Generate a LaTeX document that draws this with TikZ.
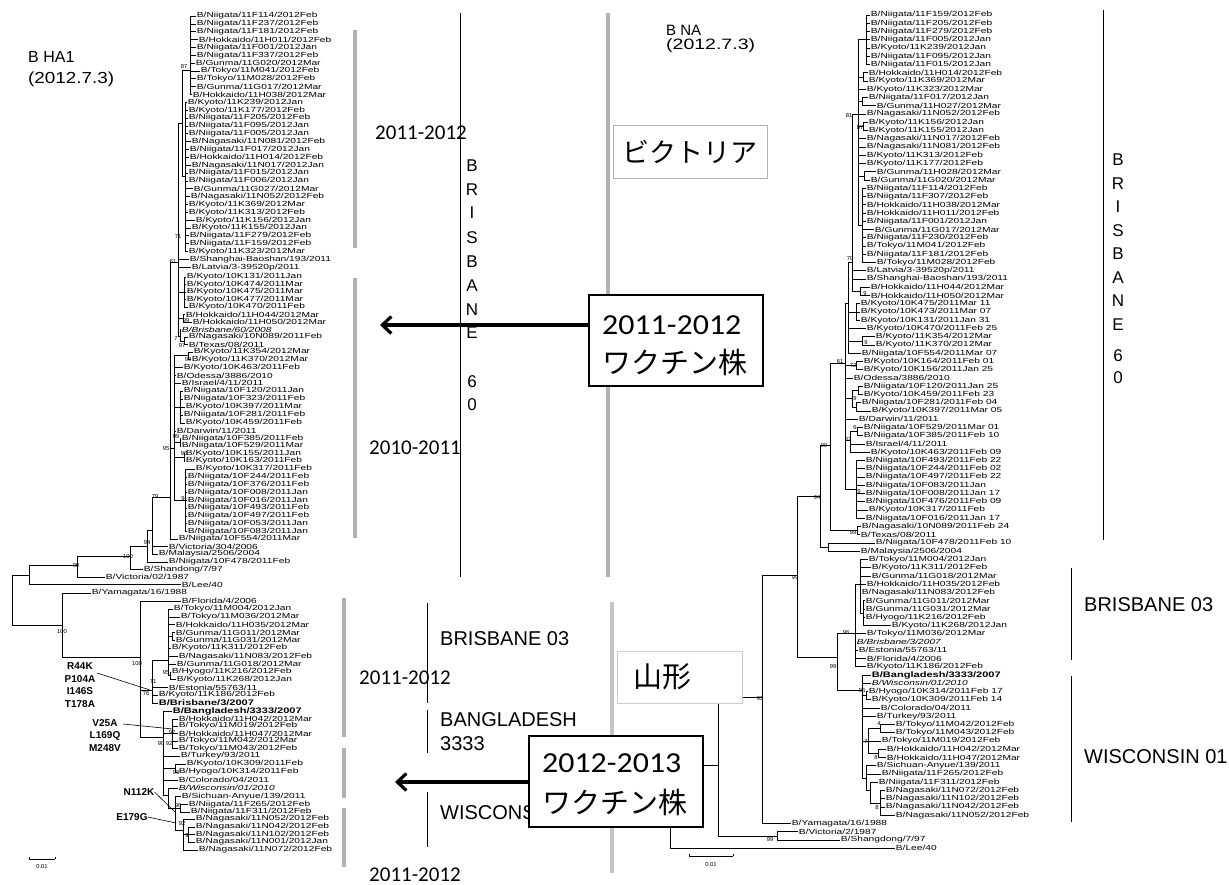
\documentclass[tikz,border=0pt]{standalone}
\usepackage{graphicx}
\usepackage{fontspec}
\setmainfont{Liberation Sans}
\newfontfamily\leaffont{Liberation Sans}
\newfontfamily\calfont{Carlito}
\newfontfamily\jpfont{Noto Sans CJK JP}
\usetikzlibrary{arrows.meta}
\newcounter{lfc}
\newcommand\ry[1]{(15+8.25*(#1-1))}
\newcommand\leafL[4]{\stepcounter{lfc}\draw[br] (#1,#3) -- (#2,#3) node[lf] (L\arabic{lfc}) {\scalebox{1.38}[1]{#4}};}
\newcommand\leafR[4]{\stepcounter{lfc}\draw[br] (#1,{\ry{#3}}) -- (#2,{\ry{#3}}) node[lf] (L\arabic{lfc}) {\scalebox{1.38}[1]{#4}};}
\newcommand\vl[3]{\draw[br] (#1,#2) -- (#1,#3);}
\newcommand\hl[3]{\draw[br] (#1,#3) -- (#2,#3);}
\newcommand\rvl[3]{\draw[br] (#1,{\ry{#2}}) -- (#1,{\ry{#3}});}
\newcommand\rhl[3]{\draw[br] (#1,{\ry{#3}}) -- (#2,{\ry{#3}});}
\newcommand\boot[3]{\node[bsl] at (#1,#2) {#3};}
\tikzset{
  br/.style={line width=0.6pt, black},
  lf/.style={anchor=west, inner sep=0.6pt, font=\leaffont\fontsize{7.4}{8}\selectfont},
  bsl/.style={inner sep=0pt, font=\leaffont\fontsize{5.8}{6}\selectfont},
  gbar/.style={line width=3.5pt, color=gray!60},
  thinbar/.style={line width=0.8pt, black},
  yr/.style={font=\calfont\fontsize{21}{23}\selectfont, inner sep=0pt},
  lab/.style={anchor=west, inner sep=0pt, font=\fontsize{20}{22}\selectfont},
  vlet/.style={inner sep=0pt, font=\fontsize{17}{18}\selectfont},
  mut/.style={align=center, inner sep=0pt, font=\bfseries\fontsize{10}{12.6}\selectfont},
  mline/.style={line width=0.6pt, black},
  vbox/.style={draw=black, line width=2.5pt, fill=white, minimum width=174pt, minimum height=91pt, inner sep=0pt},
  boxnum/.style={anchor=west, inner sep=0pt, font=\calfont\fontsize{29}{30}\selectfont},
  boxjp/.style={anchor=west, inner sep=0pt, font=\jpfont\fontsize{29}{30}\selectfont},
  arr/.style={line width=3.2pt, -{Straight Barb[length=9pt,width=17pt]}}
}
\begin{document}
\begin{tikzpicture}[x=1pt,y=-1pt]
\useasboundingbox (0,0) rectangle (1229,885);
\fill[white] (0,0) rectangle (1229,885);

% ---------------- titles
\node[anchor=west, inner sep=0pt, font=\fontsize{16}{18}\selectfont] (tl1) at (28,57) {B HA1};
\node[anchor=west, inner sep=0pt, font=\fontsize{16}{18}\selectfont] (tl2) at (28,79) {\scalebox{1.18}[1]{(2012.7.3)}};
\node[anchor=west, inner sep=0pt, font=\fontsize{15}{17}\selectfont] (tr1) at (666,30) {B NA};
\node[anchor=west, inner sep=0pt, font=\fontsize{15}{17}\selectfont] (tr2) at (666,46) {\scalebox{1.3}[1]{(2012.7.3)}};

% ================= LEFT TREE (HA1)
\leafL{190}{196}{16}{B/Niigata/11F114/2012Feb}
\leafL{190}{196}{23.85}{B/Niigata/11F237/2012Feb}
\leafL{190}{196}{31.7}{B/Niigata/11F181/2012Feb}
\leafL{190}{198}{39.55}{B/Hokkaido/11H011/2012Feb}
\leafL{190}{196}{47.4}{B/Niigata/11F001/2012Jan}
\leafL{190}{196}{55.25}{B/Niigata/11F337/2012Feb}
\leafL{190}{195}{63.1}{B/Gunma/11G020/2012Mar}
\leafL{190}{200}{70.95}{B/Tokyo/11M041/2012Feb}
\leafL{190}{196}{78.8}{B/Tokyo/11M028/2012Feb}
\leafL{190}{196}{86.65}{B/Gunma/11G017/2012Mar}
\leafL{190}{192}{94.5}{B/Hokkaido/11H038/2012Mar}
\vl{190}{16}{94.5}
\hl{182}{190}{70}
\leafL{185}{187}{102.35}{B/Kyoto/11K239/2012Jan}
\leafL{185}{188}{110.2}{B/Kyoto/11K177/2012Feb}
\leafL{185}{188}{118.05}{B/Niigata/11F205/2012Feb}
\leafL{185}{188}{125.9}{B/Niigata/11F095/2012Jan}
\leafL{185}{188}{133.75}{B/Niigata/11F005/2012Jan}
\leafL{185}{191}{141.6}{B/Nagasaki/11N081/2012Feb}
\leafL{185}{189}{149.45}{B/Niigata/11F017/2012Jan}
\leafL{185}{189}{157.3}{B/Hokkaido/11H014/2012Feb}
\leafL{185}{191}{165.15}{B/Nagasaki/11N017/2012Jan}
\leafL{185}{188}{173}{B/Niigata/11F015/2012Jan}
\leafL{185}{188}{180.85}{B/Niigata/11F006/2012Jan}
\leafL{185}{193}{188.7}{B/Gunma/11G027/2012Mar}
\leafL{185}{190}{196.55}{B/Nagasaki/11N052/2012Feb}
\leafL{185}{188}{204.4}{B/Kyoto/11K369/2012Mar}
\leafL{185}{188}{212.25}{B/Kyoto/11K313/2012Feb}
\leafL{185}{195}{220.1}{B/Kyoto/11K156/2012Jan}
\leafL{185}{191}{227.95}{B/Kyoto/11K155/2012Jan}
\leafL{185}{189}{235.8}{B/Niigata/11F279/2012Feb}
\leafL{185}{189}{243.65}{B/Niigata/11F159/2012Feb}
\leafL{185}{188}{251.5}{B/Kyoto/11K323/2012Mar}
\vl{185}{102.35}{251.5}
\hl{182}{185}{176}
\vl{182}{70}{176}
\hl{178}{182}{123}
\leafL{178}{189}{259.35}{B/Shanghai-Baoshan/193/2011}
\leafL{178}{191}{267.2}{B/Latvia/3-39520p/2011}
\leafL{184}{186}{277}{B/Kyoto/10K131/2011Jan}
\leafL{184}{186}{284.5}{B/Kyoto/10K474/2011Mar}
\leafL{184}{186}{292}{B/Kyoto/10K475/2011Mar}
\leafL{184}{186}{299.5}{B/Kyoto/10K477/2011Mar}
\leafL{184}{188}{307}{B/Kyoto/10K470/2011Feb}
\vl{184}{277}{307} \hl{178}{184}{292}
\leafL{183}{185}{314.5}{B/Hokkaido/11H044/2012Mar}
\leafL{183}{192}{322}{B/Hokkaido/11H050/2012Mar}
\vl{183}{314.5}{322} \hl{178}{183}{318}
\leafL{180}{181}{329.5}{\itshape B/Brisbane/60/2008}
\leafL{184}{188}{337}{B/Nagasaki/10N089/2011Feb}
\leafL{184}{188}{344.5}{B/Texas/08/2011}
\vl{184}{337}{344.5} \hl{180}{184}{341}
\vl{180}{329.5}{341} \hl{178}{180}{336}
\vl{178}{123}{336}
\hl{170}{178}{262}
\leafL{188}{193}{352}{B/Kyoto/11K354/2012Mar}
\leafL{188}{191}{359.5}{B/Kyoto/11K370/2012Mar}
\vl{188}{352}{359.5} \hl{174}{188}{355.5}
\leafL{174}{183}{367.5}{B/Kyoto/10K463/2011Feb}
\leafL{174}{176}{375.5}{B/Odessa/3886/2010}
\leafL{174}{181}{383}{B/Israel/4/11/2011}
\leafL{180}{183}{391}{B/Niigata/10F120/2011Jan}
\leafL{180}{183}{399}{B/Niigata/10F323/2011Feb}
\leafL{180}{185}{407}{B/Kyoto/10K397/2011Mar}
\leafL{180}{183}{415}{B/Niigata/10F281/2011Feb}
\leafL{180}{185}{423}{B/Kyoto/10K459/2011Feb}
\vl{180}{391}{423} \hl{174}{180}{407}
\leafL{174}{176}{431}{B/Darwin/11/2011}
\leafL{180}{181}{438.5}{B/Niigata/10F385/2011Feb}
\leafL{180}{181}{446}{B/Niigata/10F529/2011Mar}
\vl{180}{438.5}{446} \hl{174}{180}{442}
\leafL{184}{185}{453.5}{B/Kyoto/10K155/2011Jan}
\leafL{184}{185}{461}{B/Kyoto/10K163/2011Feb}
\vl{184}{453.5}{461} \hl{174}{184}{457}
\leafL{185}{195}{469}{B/Kyoto/10K317/2011Feb}
\leafL{185}{187}{476.8}{B/Niigata/10F244/2011Feb}
\leafL{185}{187}{484.6}{B/Niigata/10F376/2011Feb}
\leafL{185}{187}{492.4}{B/Niigata/10F008/2011Jan}
\leafL{185}{187}{500.2}{B/Niigata/10F016/2011Jan}
\leafL{185}{187}{508}{B/Niigata/10F493/2011Feb}
\leafL{185}{187}{515.8}{B/Niigata/10F497/2011Feb}
\leafL{185}{187}{523.6}{B/Niigata/10F053/2011Jan}
\leafL{185}{187}{531.4}{B/Niigata/10F083/2011Jan}
\vl{185}{469}{531.4} \hl{174}{185}{500}
\vl{174}{355.5}{500} \hl{170}{174}{448}
\leafL{170}{178}{539}{B/Niigata/10F554/2011Mar}
\vl{170}{262}{539} \hl{152}{170}{497}
\leafL{152}{168}{546.5}{B/Victoria/304/2006}
\leafL{152}{158}{554}{B/Malaysia/2506/2004}
\vl{152}{497}{554} \hl{147}{152}{530}
\leafL{147}{168}{562}{B/Niigata/10F478/2011Feb}
\vl{147}{530}{562} \hl{130}{147}{546}
\leafL{130}{143}{569.5}{B/Shandong/7/97}
\vl{130}{546}{569.5} \hl{77}{130}{556}
\leafL{77}{105}{577}{B/Victoria/02/1987}
\vl{77}{556}{577} \hl{29}{77}{565}
\leafL{29}{181}{584.5}{B/Lee/40}
\vl{29}{565}{584.5} \hl{12}{29}{575}
\vl{12}{575}{625} \hl{12}{62}{625}
\leafL{62}{91}{593}{B/Yamagata/16/1988}
\vl{62}{593}{657} \hl{62}{140}{657}
\leafL{140}{181}{601}{B/Florida/4/2006}
\leafL{168}{173}{609}{B/Tokyo/11M004/2012Jan}
\leafL{168}{180}{617}{B/Tokyo/11M036/2012Mar}
\leafL{168}{175}{624.5}{B/Hokkaido/11H035/2012Mar}
\leafL{172}{175}{632.5}{B/Gunma/11G011/2012Mar}
\leafL{172}{175}{640}{B/Gunma/11G031/2012Mar}
\vl{172}{632.5}{640} \hl{168}{172}{636}
\leafL{168}{171}{648}{B/Kyoto/11K311/2012Feb}
\leafL{168}{178}{656.5}{B/Nagasaki/11N083/2012Feb}
\leafL{168}{176}{664}{B/Gunma/11G018/2012Mar}
\leafL{170}{171}{672}{B/Hyogo/11K216/2012Feb}
\leafL{170}{176}{679.5}{B/Kyoto/11K268/2012Jan}
\vl{170}{672}{679.5} \hl{168}{170}{675}
\vl{168}{609}{675} \hl{152}{168}{660}
\leafL{152}{168}{687.5}{B/Estonia/55763/11}
\leafL{152}{158}{695}{B/Kyoto/11K186/2012Feb}
\leafL{152}{158}{703}{\bfseries\fontsize{8}{9}\selectfont B/Brisbane/3/2007}
\vl{152}{660}{703} \hl{140}{152}{690}
\vl{140}{601}{737} \hl{140}{163}{737}
\leafL{163}{172}{711.5}{\bfseries\fontsize{8}{9}\selectfont B/Bangladesh/3333/2007}
\leafL{172}{178}{719}{B/Hokkaido/11H042/2012Mar}
\leafL{172}{178}{726}{B/Tokyo/11M019/2012Feb}
\leafL{172}{178}{733.5}{B/Hokkaido/11H047/2012Mar}
\leafL{172}{178}{741}{B/Tokyo/11M042/2012Mar}
\leafL{172}{178}{748.5}{B/Tokyo/11M043/2012Feb}
\vl{172}{719}{748.5} \hl{163}{172}{733}
\leafL{163}{180}{756}{B/Turkey/93/2011}
\leafL{175}{186}{764}{B/Kyoto/10K309/2011Feb}
\leafL{175}{178}{772}{B/Hyogo/10K314/2011Feb}
\vl{175}{764}{772} \hl{163}{175}{768}
\leafL{163}{178}{780}{B/Colorado/04/2011}
\leafL{168}{178}{788}{\itshape B/Wisconsin/01/2010}
\leafL{175}{181}{796.5}{B/Sichuan-Anyue/139/2011}
\leafL{180}{188}{804.5}{B/Niigata/11F265/2012Feb}
\leafL{180}{190}{812}{B/Niigata/11F311/2012Feb}
\vl{180}{804.5}{812} \hl{175}{180}{808.5}
\leafL{183}{195}{819}{B/Nagasaki/11N052/2012Feb}
\leafL{188}{195}{827}{B/Nagasaki/11N042/2012Feb}
\leafL{188}{195}{834.5}{B/Nagasaki/11N102/2012Feb}
\leafL{188}{195}{842}{B/Nagasaki/11N001/2012Jan}
\vl{188}{827}{842} \hl{183}{188}{834.5}
\leafL{183}{198}{850}{B/Nagasaki/11N072/2012Feb}
\vl{183}{819}{850} \hl{175}{183}{830}
\vl{175}{796.5}{830} \hl{168}{175}{808}
\vl{168}{788}{808} \hl{163}{168}{795}
\vl{163}{711.5}{795}

% left bootstrap values
\boot{184}{67}{87}
\boot{178}{237}{71}
\boot{173}{262}{61}
\boot{186}{321}{99}
\boot{176}{339}{7}
\boot{182}{346}{97}
\boot{188}{360}{99}
\boot{176}{437}{99}
\boot{184}{454}{96}
\boot{166}{449}{95}
\boot{183}{499}{9}
\boot{155}{497}{79}
\boot{147}{543}{94}
\boot{128}{557}{100}
\boot{76}{566}{99}
\boot{62}{631}{100}
\boot{137}{663}{100}
\boot{166}{672}{95}
\boot{153}{682}{71}
\boot{146}{693}{76}
\boot{172}{732}{97}
\boot{161}{743}{90}
\boot{169}{743}{92}
\boot{176}{772}{99}
\boot{178}{805}{96}
\boot{182}{823}{92}
\boot{187}{835}{9}

% mutations
\node[mut] (mA) at (80,685) {R44K\\P104A\\I146S\\T178A};
\coordinate (mAs) at (97,673); \coordinate (mAe) at (150,690);
\draw[mline] (mAs) -- (mAe);
\node[mut] (mB) at (105,735.5) {V25A\\L169Q\\M248V};
\coordinate (mBs) at (123,724); \coordinate (mBe) at (173,729);
\draw[mline] (mBs) -- (mBe);
\node[mut] (mC) at (139,792) {N112K};
\coordinate (mCe) at (176,813);
\draw[mline] (mC.east) -- (mCe);
\node[mut] (mD) at (132,817) {E179G};
\coordinate (mDe) at (176,823);
\draw[mline] (mD.east) -- (mDe);

% left scale bar
\coordinate (sl1) at (29,859); \coordinate (sl2) at (55,859);
\draw[br] (sl1) -- (sl2);
\draw[br] (29,857) -- (sl1); \draw[br] (55,857) -- (sl2);
\node[bsl] (sl) at (42,866) {0.01};

% ================= RIGHT TREE (NA)
\leafR{866}{870}{1}{B/Niigata/11F159/2012Feb}
\leafR{866}{870}{2}{B/Niigata/11F205/2012Feb}
\leafR{866}{870}{3}{B/Niigata/11F279/2012Feb}
\leafR{866}{870}{4}{B/Niigata/11F005/2012Jan}
\leafR{866}{870}{5}{B/Kyoto/11K239/2012Jan}
\leafR{866}{870}{6}{B/Niigata/11F095/2012Jan}
\leafR{866}{870}{7}{B/Niigata/11F015/2012Jan}
\leafR{863}{868}{8}{B/Hokkaido/11H014/2012Feb}
\leafR{863}{868}{9}{B/Kyoto/11K369/2012Mar}
\leafR{858}{866}{10}{B/Kyoto/11K323/2012Mar}
\leafR{862}{868}{11}{B/Niigata/11F017/2012Jan}
\leafR{862}{876}{12}{B/Gunma/11H027/2012Mar}
\leafR{858}{866}{13}{B/Nagasaki/11N052/2012Feb}
\leafR{863}{868}{14}{B/Kyoto/11K156/2012Jan}
\leafR{863}{868}{15}{B/Kyoto/11K155/2012Jan}
\leafR{858}{866}{16}{B/Nagasaki/11N017/2012Feb}
\leafR{858}{866}{17}{B/Nagasaki/11N081/2012Feb}
\leafR{858}{866}{18}{B/Kyoto/11K313/2012Feb}
\leafR{858}{866}{19}{B/Kyoto/11K177/2012Feb}
\leafR{864}{876}{20}{B/Gunma/11H028/2012Mar}
\leafR{864}{870}{21}{B/Gunma/11G020/2012Mar}
\leafR{862}{866}{22}{B/Niigata/11F114/2012Feb}
\leafR{862}{866}{23}{B/Niigata/11F307/2012Feb}
\leafR{862}{866}{24}{B/Hokkaido/11H038/2012Mar}
\leafR{862}{866}{25}{B/Hokkaido/11H011/2012Feb}
\leafR{862}{866}{26}{B/Niigata/11F001/2012Jan}
\leafR{862}{874}{27}{B/Gunma/11G017/2012Mar}
\leafR{862}{866}{28}{B/Niigata/11F230/2012Feb}
\leafR{862}{866}{29}{B/Tokyo/11M041/2012Feb}
\leafR{862}{866}{30}{B/Niigata/11F181/2012Feb}
\leafR{862}{876}{31}{B/Tokyo/11M028/2012Feb}
\leafR{852}{866}{32}{B/Latvia/3-39520p/2011}
\leafR{852}{866}{33}{B/Shanghai-Baoshan/193/2011}
\leafR{860}{870}{34}{B/Hokkaido/11H044/2012Mar}
\leafR{860}{870}{35}{B/Hokkaido/11H050/2012Mar}
\leafR{856}{860}{36}{B/Kyoto/10K475/2011Mar 11}
\leafR{856}{860}{37}{B/Kyoto/10K473/2011Mar 07}
\leafR{856}{860}{38}{B/Kyoto/10K131/2011Jan 31}
\leafR{848}{866}{39}{B/Kyoto/10K470/2011Feb 25}
\leafR{862}{875}{40}{B/Kyoto/11K354/2012Mar}
\leafR{862}{875}{41}{B/Kyoto/11K370/2012Mar}
\leafR{848}{861}{42}{B/Niigata/10F554/2011Mar 07}
\leafR{856}{863}{43}{B/Kyoto/10K164/2011Feb 01}
\leafR{856}{863}{44}{B/Kyoto/10K156/2011Jan 25}
\leafR{845}{853}{45}{B/Odessa/3886/2010}
\leafR{858}{863}{46}{B/Niigata/10F120/2011Jan 25}
\leafR{858}{863}{47}{B/Kyoto/10K459/2011Feb 23}
\leafR{856}{861}{48}{B/Niigata/10F281/2011Feb 04}
\leafR{856}{871}{49}{B/Kyoto/10K397/2011Mar 05}
\leafR{845}{858}{50}{B/Darwin/11/2011}
\leafR{857}{863}{51}{B/Niigata/10F529/2011Mar 01}
\leafR{857}{863}{52}{B/Niigata/10F385/2011Feb 10}
\leafR{850}{865}{53}{B/Israel/4/11/2011}
\leafR{850}{870}{54}{B/Kyoto/10K463/2011Feb 09}
\leafR{856}{865}{55}{B/Niigata/10F493/2011Feb 22}
\leafR{856}{865}{56}{B/Niigata/10F244/2011Feb 02}
\leafR{856}{865}{57}{B/Niigata/10F497/2011Feb 22}
\leafR{856}{865}{58}{B/Niigata/10F083/2011Jan}
\leafR{856}{865}{59}{B/Niigata/10F008/2011Jan 17}
\leafR{856}{865}{60}{B/Niigata/10F476/2011Feb 09}
\leafR{856}{868}{61}{B/Kyoto/10K317/2011Feb}
\leafR{856}{865}{62}{B/Niigata/10F016/2011Jan 17}
\leafR{857}{861}{63}{B/Nagasaki/10N089/2011Feb 24}
\leafR{857}{860}{64}{B/Texas/08/2011}
\leafR{828}{875}{65}{B/Niigata/10F478/2011Feb 10}
\leafR{828}{860}{66}{B/Malaysia/2506/2004}
\leafR{860}{868}{67}{B/Tokyo/11M004/2012Jan}
\leafR{860}{871}{68}{B/Kyoto/11K311/2012Feb}
\leafR{860}{871}{69}{B/Gunma/11G018/2012Mar}
\leafR{860}{866}{70}{B/Hokkaido/11H035/2012Feb}
\leafR{860}{861}{71}{B/Nagasaki/11N083/2012Feb}
\leafR{863}{865}{72}{B/Gunma/11G011/2012Mar}
\leafR{863}{865}{73}{B/Gunma/11G031/2012Mar}
\leafR{863}{865}{74}{B/Hyogo/11K216/2012Feb}
\leafR{863}{891}{75}{B/Kyoto/11K268/2012Jan}
\leafR{855}{866}{76}{B/Tokyo/11M036/2012Mar}
\leafR{855}{856}{77}{\itshape B/Brisbane/3/2007}
\leafR{855}{858}{78}{B/Estonia/55763/11}
\leafR{855}{866}{79}{B/Florida/4/2006}
\leafR{855}{866}{80}{B/Kyoto/11K186/2012Feb}
\leafR{862}{871}{81}{\bfseries\fontsize{8}{9}\selectfont B/Bangladesh/3333/2007}
\leafR{862}{871}{82}{\itshape B/Wisconsin/01/2010}
\leafR{866}{868}{83}{B/Hyogo/10K314/2011Feb 17}
\leafR{866}{871}{84}{B/Kyoto/10K309/2011Feb 14}
\leafR{862}{880}{85}{B/Colorado/04/2011}
\leafR{862}{876}{86}{B/Turkey/93/2011}
\leafR{880}{895}{87}{B/Tokyo/11M042/2012Feb}
\leafR{880}{895}{88}{B/Tokyo/11M043/2012Feb}
\leafR{868}{881}{89}{B/Tokyo/11M019/2012Feb}
\leafR{878}{886}{90}{B/Hokkaido/11H042/2012Mar}
\leafR{878}{886}{91}{B/Hokkaido/11H047/2012Mar}
\leafR{866}{876}{92}{B/Sichuan-Anyue/139/2011}
\leafR{866}{881}{93}{B/Niigata/11F265/2012Feb}
\leafR{870}{878}{94}{B/Niigata/11F311/2012Feb}
\leafR{880}{885}{95}{B/Nagasaki/11N072/2012Feb}
\leafR{880}{885}{96}{B/Nagasaki/11N102/2012Feb}
\leafR{880}{885}{97}{B/Nagasaki/11N042/2012Feb}
\leafR{880}{895}{98}{B/Nagasaki/11N052/2012Feb}
\leafR{762}{791}{99}{B/Yamagata/16/1988}
\leafR{777}{798}{100}{B/Victoria/2/1987}
\leafR{777}{840}{101}{B/Shangdong/7/97}
\leafR{670}{895}{102}{B/Lee/40}

\rvl{866}{1}{7} \rhl{858}{866}{4}
\rvl{863}{8}{9} \rhl{858}{863}{8.5}
\rvl{862}{11}{12} \rhl{858}{862}{11.5}
\rvl{863}{14}{15} \rhl{858}{863}{14.5}
\rvl{864}{20}{21} \rhl{858}{864}{20.5}
\rvl{862}{22}{31} \rhl{858}{862}{26.5}
\rvl{858}{4}{26.5} \rhl{852}{858}{13}
\rvl{860}{34}{35} \rhl{852}{860}{34.5}
\rvl{852}{13}{34.5} \rhl{848}{852}{31}
\rvl{856}{36}{38} \rhl{848}{856}{37}
\rvl{862}{40}{41} \rhl{848}{862}{40.5}
\rvl{848}{31}{42} \rhl{845}{848}{36}
\rvl{856}{43}{44} \rhl{845}{856}{43.5}
\rvl{858}{46}{47} \rhl{852}{858}{46.5}
\rvl{856}{48}{49} \rhl{852}{856}{48.5}
\rvl{852}{46.5}{48.5} \rhl{845}{852}{47.5}
\rvl{857}{51}{52} \rhl{850}{857}{51.5}
\rvl{850}{51.5}{54} \rhl{845}{850}{52.5}
\rvl{856}{55}{62} \rhl{845}{856}{58.5}
\rvl{845}{36}{58.5} \rhl{830}{845}{43.2}
\rvl{857}{63}{64} \rhl{830}{857}{63.5}
\rvl{830}{43.2}{63.5} \rhl{820}{830}{53.2}
\rvl{828}{65}{66} \rhl{820}{828}{65.5}
\rvl{820}{53.2}{65.5} \rhl{797}{820}{59.3}
\rvl{863}{72}{75} \rhl{860}{863}{73.5}
\rvl{860}{67}{73.5} \rhl{855}{860}{70}
\rvl{855}{70}{80} \rhl{837}{855}{75.9}
\rvl{866}{83}{84} \rhl{862}{866}{83.5}
\rvl{880}{87}{88} \rhl{868}{880}{87.5}
\rvl{878}{90}{91} \rhl{868}{878}{90.5}
\rvl{868}{87.5}{90.5} \rhl{862}{868}{89}
\rvl{880}{95}{98} \rhl{870}{880}{96.5}
\rvl{870}{94}{96.5} \rhl{866}{870}{95}
\rvl{866}{92}{95} \rhl{862}{866}{93.5}
\rvl{862}{81}{93.5} \rhl{837}{862}{82.8}
\rvl{837}{75.9}{82.8} \rhl{797}{837}{78.9}
\rvl{797}{59.3}{78.9} \rhl{762}{797}{68.9}
\rvl{762}{68.9}{99} \rhl{718}{762}{83.7}
\rvl{777}{100}{101} \rhl{718}{777}{100.5}
\rvl{718}{83.7}{100.5} \rhl{670}{718}{91.9}
\rvl{670}{91.9}{102}

% right bootstrap values
\boot{849}{116}{81}
\boot{860}{128}{87}
\boot{850}{259}{70}
\boot{865}{294}{9}
\boot{866}{343}{9}
\boot{840}{362}{61}
\boot{853}{365}{72}
\boot{855}{399}{9}
\boot{855}{428}{6}
\boot{848}{440}{82}
\boot{859}{492}{9}
\boot{853}{533}{99}
\boot{824}{446}{90}
\boot{817}{498}{94}
\boot{795}{578}{99}
\boot{760}{698}{93}
\boot{770}{839}{99}
\boot{846}{633}{96}
\boot{833}{666}{99}
\boot{862}{690}{96}
\boot{879}{724}{4}
\boot{866}{742}{7}
\boot{876}{757}{8}
\boot{877}{807}{8}

% right scale bar
\coordinate (sr1) at (689,856); \coordinate (sr2) at (733,856);
\draw[br] (sr1) -- (sr2);
\draw[br] (689,854) -- (sr1); \draw[br] (733,854) -- (sr2);
\node[bsl] (sr) at (711,864) {0.01};

% ================= brackets and labels
\draw[gbar] (355,30) -- (355,248);
\draw[gbar] (355,278) -- (355,538);
\draw[gbar] (344,598) -- (344,737);
\draw[gbar] (344,748) -- (344,798);
\draw[gbar] (344,808) -- (344,867);
\draw[thinbar] (460,13) -- (460,577);
\draw[thinbar] (427,603) -- (427,703);
\draw[thinbar] (427,710) -- (427,753);
\draw[thinbar] (427,792) -- (427,847);
\draw[gbar, line width=4.5pt] (608,13) -- (608,577);
\draw[gbar, line width=4.5pt, color=gray!45] (612,602) -- (612,873);

\node[yr] (y1) at (421,133) {2011-2012};
\node[yr] (y2) at (415,448) {2010-2011};
\node[yr] (y3) at (405,678) {2011-2012};
\node[yr] (y4) at (415,875) {2011-2012};

\node[vlet] (lb1) at (472,166) {B};
\node[vlet] (lb2) at (472,190) {R};
\node[vlet] (lb3) at (472,213) {I};
\node[vlet] (lb4) at (472,238) {S};
\node[vlet] (lb5) at (472,262) {B};
\node[vlet] (lb6) at (472,286) {A};
\node[vlet] (lb7) at (472,310) {N};
\node[vlet] (lb8) at (472,333) {E};
\node[vlet] (lb9) at (472,382) {6};
\node[vlet] (lb10) at (472,405) {0};

\node[lab] (lB03) at (440,639) {BRISBANE 03};
\node[lab] (lBG) at (440,720) {BANGLADESH};
\node[lab] (lBG2) at (440,744) {3333};
\node[lab] (lWI) at (440,813) {WISCONSIN};

\draw[thinbar] (1103,10) -- (1103,540);
\node[vlet] (rb1) at (1118,160) {B};
\node[vlet] (rb2) at (1118,183.5) {R};
\node[vlet] (rb3) at (1118,207) {I};
\node[vlet] (rb4) at (1118,230.5) {S};
\node[vlet] (rb5) at (1118,254) {B};
\node[vlet] (rb6) at (1118,277.5) {A};
\node[vlet] (rb7) at (1118,301) {N};
\node[vlet] (rb8) at (1118,324.5) {E};
\node[vlet] (rb9) at (1118,356) {6};
\node[vlet] (rb10) at (1118,378) {0};
\draw[thinbar] (1071,568) -- (1071,660);
\node[lab] (rB03) at (1084,605) {BRISBANE 03};
\draw[thinbar] (1071,676) -- (1071,822);
\node[lab] (rWI) at (1084,757) {WISCONSIN 01};

% ================= boxes
\node[draw=gray!60, line width=0.8pt, fill=white, minimum width=154pt, minimum height=53pt, inner sep=0pt,
      font=\jpfont\fontsize{27}{30}\selectfont] (vic) at (690,151.5) {ビクトリア};
\node[draw=gray!40, line width=0.8pt, fill=white, minimum width=125pt, minimum height=52pt, inner sep=0pt] (yam) at (679.5,677) {};
\node[inner sep=0pt, font=\jpfont\fontsize{29}{30}\selectfont] (yamt) at (662,677) {山形};

\node[vbox] (vac1) at (676,340.5) {};
\node[boxnum] (v1a) at (602,325) {\scalebox{1.1}[1]{2011-2012}};
\node[boxjp] (v1b) at (602,362) {ワクチン株};
\coordinate (a1) at (380,325);
\draw[arr] (vac1.west |- a1) -- (a1);

\node[vbox] (vac2) at (616,781.5) {};
\node[boxnum] (v2a) at (542,763) {\scalebox{1.1}[1]{2012-2013}};
\node[boxjp] (v2b) at (542,802) {ワクチン株};
\coordinate (a2) at (395,782);
\draw[arr] (vac2.west |- a2) -- (a2);
\end{tikzpicture}
\end{document}
